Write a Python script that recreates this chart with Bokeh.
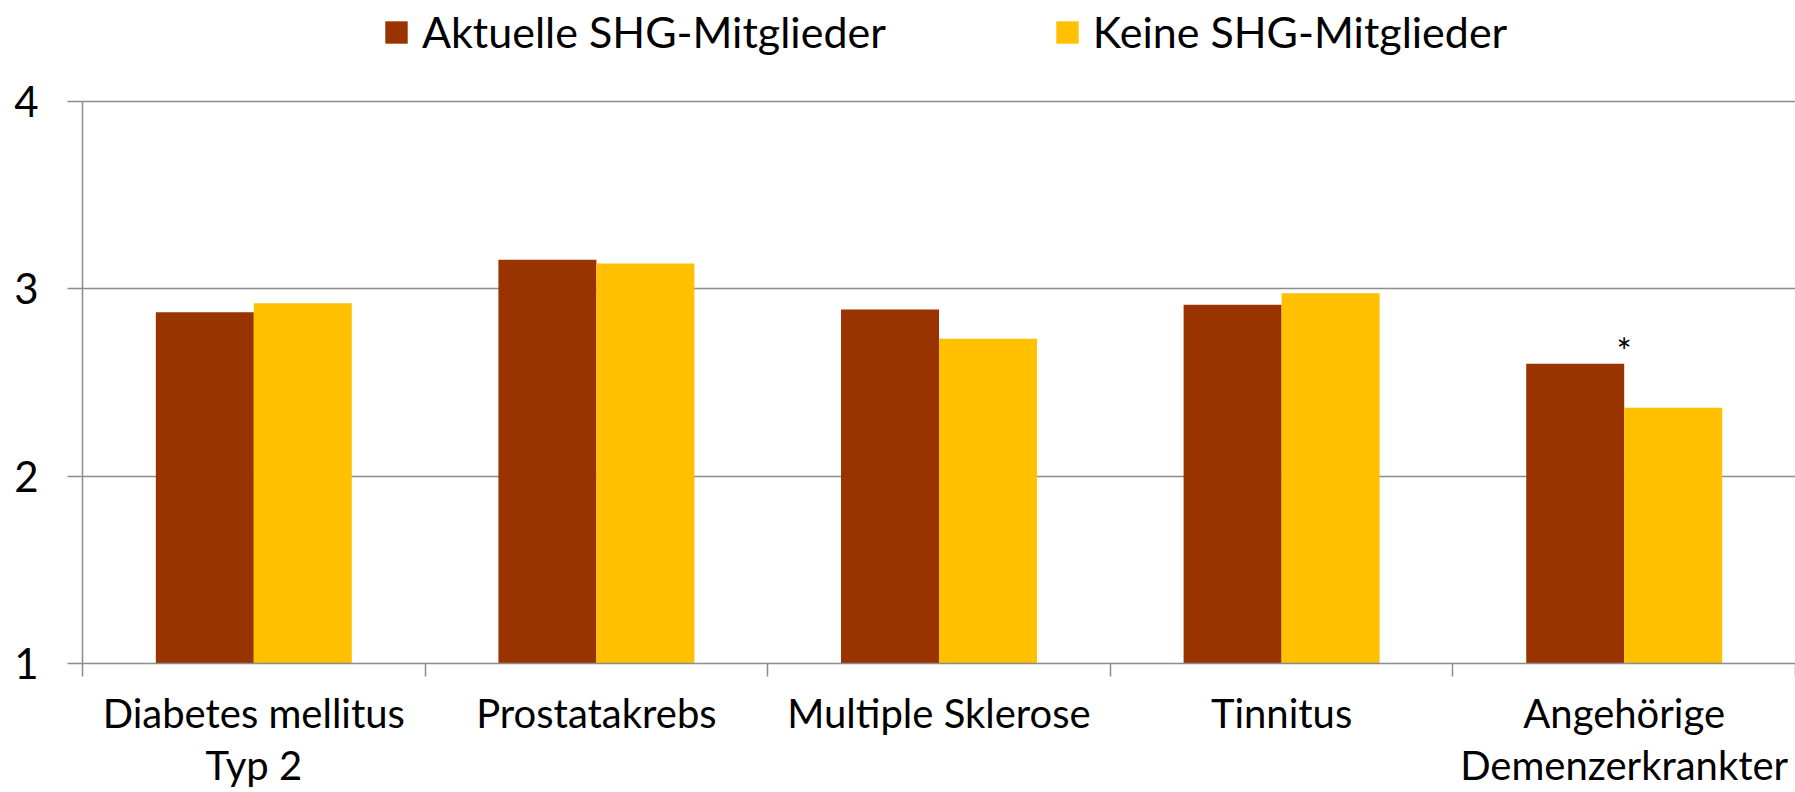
import numpy as np
from bokeh.plotting import figure
from bokeh.models import FixedTicker, Legend, LegendItem, Range1d
from bokeh.core.properties import value
from bokeh.embed import file_html
from bokeh.resources import INLINE

# ---- data ----
categories = ["Diabetes mellitus\nTyp 2", "Prostatakrebs", "Multiple Sklerose",
              "Tinnitus", "Angehörige\nDemenzerkrankter"]
aktuelle = [2.875, 3.155, 2.89, 2.915, 2.60]
keine = [2.923, 3.135, 2.733, 2.977, 2.365]
annotations = ["", "", "", "", "*"]
series_names = ["Aktuelle SHG-Mitglieder", "Keine SHG-Mitglieder"]
colors = ["#993300", "#FFC000"]
y_ticks = [1, 2, 3, 4]

FONT = "Lato"
GRAY = "#8c8c8c"

W, H = 1795, 792
BORDER_BOTTOM = 129
FRAME_H = H - BORDER_BOTTOM
AXIS_TOP_PX = 101          # where the value 4 sits, from the top of the figure
y_lo, y_hi = y_ticks[0], y_ticks[-1]
y_top = y_hi + AXIS_TOP_PX * (y_hi - y_lo) / (FRAME_H - AXIS_TOP_PX)

n = len(categories)
xc = np.arange(n) + 0.5
bw = 0.286

p = figure(width=W, height=H,
           x_range=Range1d(0, n), y_range=Range1d(y_lo, y_top),
           output_backend="svg", toolbar_location=None,
           min_border_left=82, min_border_right=0,
           min_border_top=0, min_border_bottom=BORDER_BOTTOM)
p.title.visible = False
p.outline_line_color = None
p.background_fill_color = "white"
p.border_fill_color = "white"

r1 = p.vbar(x=xc - bw / 2, top=aktuelle, bottom=y_lo, width=bw,
            fill_color=colors[0], line_color=None)
r2 = p.vbar(x=xc + bw / 2, top=keine, bottom=y_lo, width=bw,
            fill_color=colors[1], line_color=None)

p.text(x=xc, y=aktuelle, text=annotations, text_align="center",
       text_baseline="alphabetic", y_offset=-13,
       text_font=value(FONT), text_font_size="36px", text_color="black")

# grid
p.xgrid.visible = False
p.ygrid.ticker = FixedTicker(ticks=y_ticks)
p.ygrid.grid_line_color = GRAY
p.ygrid.grid_line_width = 1.5

# y axis
ya = p.yaxis[0]
ya.bounds = (y_lo, y_hi)
ya.ticker = FixedTicker(ticks=y_ticks, minor_ticks=[])
ya.axis_line_color = GRAY
ya.axis_line_width = 1.5
ya.major_tick_line_color = GRAY
ya.major_tick_line_width = 1.5
ya.major_tick_out = 15
ya.major_tick_in = 0
ya.minor_tick_line_color = None
ya.major_label_standoff = 29
ya.major_label_text_font = FONT
ya.major_label_text_font_size = "42px"
ya.major_label_text_color = "black"

# x axis: labels at centres, tick marks at category boundaries
xa = p.xaxis[0]
xa.ticker = FixedTicker(ticks=list(xc), minor_ticks=list(range(0, n + 1)))
xa.major_label_overrides = {float(v): c for v, c in zip(xc, categories)}
xa.axis_line_color = GRAY
xa.axis_line_width = 1.5
xa.major_tick_line_color = None
xa.major_tick_out = 0
xa.major_tick_in = 0
xa.minor_tick_line_color = GRAY
xa.minor_tick_line_width = 1.5
xa.minor_tick_out = 13
xa.minor_tick_in = 0
xa.major_label_standoff = 12
xa.major_label_text_font = FONT
xa.major_label_text_font_size = "40px"
xa.major_label_text_line_height = 1.1
xa.major_label_text_color = "black"

legend = Legend(items=[LegendItem(label=series_names[0], renderers=[r1]),
                       LegendItem(label=series_names[1], renderers=[r2])],
                orientation="horizontal", location=(300, FRAME_H - 57),
                padding=0, margin=0, spacing=167,
                glyph_width=28, glyph_height=28, label_standoff=12,
                label_text_font=FONT, label_text_font_size="43px",
                label_text_color="black",
                border_line_color=None, background_fill_alpha=0)
p.add_layout(legend, "center")

open("out.html", "w").write(file_html(p, INLINE))
